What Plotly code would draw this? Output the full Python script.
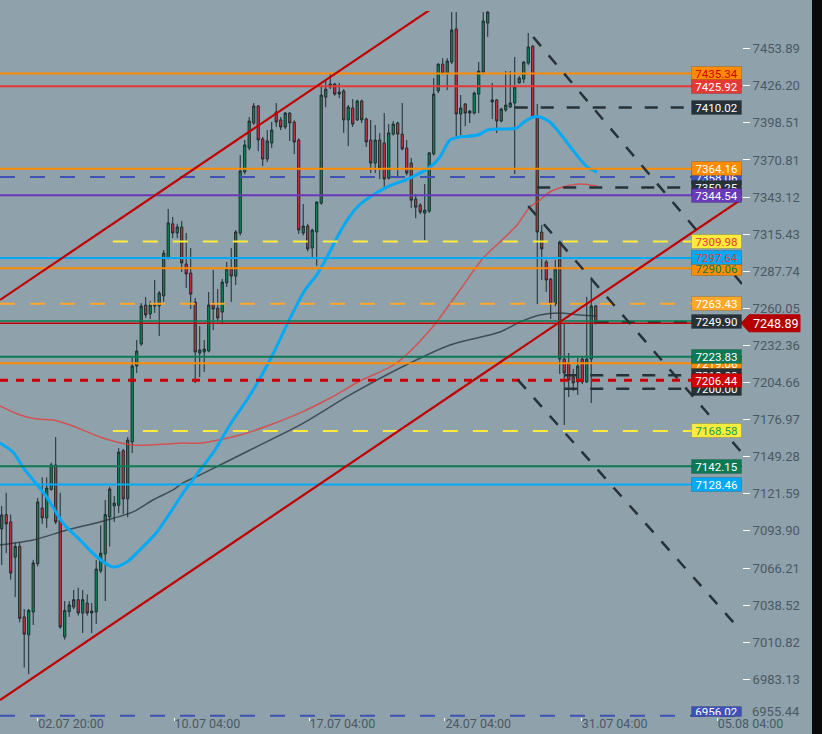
import plotly.graph_objects as go

# ---------------- data ----------------
opens = [7095.4,7106.1,7100.6,7074.3,7082.3,7029.7,7016.3,7033.4,7069.4,7111,
         7103.6,7124.9,7143.1,7102.1,7014.8,7033.6,7037.1,7042.6,7032.6,7040.1,
         7032.6,7033.4,7064,7076.7,7104.3,7112.5,7113,7153.7,7117.8,7160.3,
         7217,7233.4,7262.5,7255.9,7261.8,7261.8,7269.3,7297.6,7323.1,7316.3,
         7320.8,7293.2,7286.4,7264.8,7226.7,7227.5,7228.2,7264,7260.3,7257.3,
         7279,7289.4,7284.1,7316.3,7361.9,7379.7,7398.4,7411.1,7386.5,7371.5,
         7383.5,7406.6,7400.7,7395.4,7405.8,7399.1,7385.7,7316.3,7321.5,7305.1,
         7317,7338.6,7417.7,7425.3,7427.5,7420,7422.3,7400.7,7409.6,7400.7,
         7414.8,7401.4,7385.7,7368.5,7385.7,7383.5,7357.2,7390.1,7398.4,7390.1,
         7379.7,7368.5,7341.6,7337.1,7331.1,7332.6,7375.3,7422.3,7442.3,7435.6,
         7443.9,7468.6,7405.1,7412.6,7405.8,7405.8,7420,7436.5,7473,7414.1,
         7415.6,7399.9,7408.1,7410.3,7413.3,7428.3,7431.2,7443.1,7455.8,7402.9,
         7317,7294.7,7281.9,7263.3,7309.6,7222.2,7219.2,7208.9,7205.1,7222.2,
         7205.1,7222.2,7261.8]
highs = [7112.5,7122.3,7106.1,7085.2,7085.2,7035.6,7035.6,7072.3,7118.5,7133.9,
         7133.9,7144.8,7164,7122.3,7041.6,7041.6,7049.8,7051.5,7049.8,7046.5,
         7040.1,7072.3,7098.1,7117,7126.9,7120,7155.7,7155.1,7164,7223,
         7236.4,7264,7268.6,7265.5,7281.2,7273,7303.6,7334.2,7328.2,7323.1,
         7325.2,7316.3,7305.1,7267.8,7246.8,7236.4,7272.2,7288.7,7274.5,7282,
         7294.7,7305.1,7318.5,7374.5,7385.7,7402.9,7413.3,7411.8,7388,7393.1,
         7399.1,7413.3,7402.9,7406.6,7406.6,7400.4,7387,7337.9,7323.1,7319.5,
         7340.1,7425.3,7430.4,7435.6,7428.3,7428.3,7423.7,7411.8,7416.3,7415.8,
         7415.8,7402.4,7400.7,7396.9,7391,7405.8,7397.6,7399.9,7399.4,7413.3,
         7385.7,7372.3,7345.3,7338.6,7352.8,7376.6,7431.9,7443,7446.8,7446.8,
         7481.2,7481.2,7419.3,7413.3,7408.1,7421.8,7443.9,7481.2,7481.8,7428.3,
         7416.3,7409.8,7437.2,7437.2,7447.6,7433.4,7444.5,7465.6,7456.4,7412.6,
         7322.3,7296.2,7282.7,7296.2,7310.6,7249.1,7226.7,7214.9,7223,7223.7,
         7268.6,7283.4,7262.5]
lows = [7068.5,7077.3,7057.5,7044.5,7025.7,6991.9,6987,7023.7,7067.4,7099.1,
        7096.2,7123.9,7099,7020.8,7012.8,7029.7,7035.6,7030.7,7017.7,7030.7,
        7017.7,7024.5,7062.4,7041.6,7082.3,7100.6,7107.1,7106.6,7104.1,7152,
        7211.8,7232,7252.9,7252,7256.6,7239.4,7264.8,7296.6,7312.5,7312.5,
        7287.2,7275.2,7259.5,7204.3,7208.8,7212.6,7227.2,7243.8,7249.9,7249.1,
        7276,7264.8,7277.5,7314.5,7360.2,7378,7396.9,7377.4,7366.3,7369.3,
        7379.7,7395.4,7393.1,7393.9,7385,7375.2,7315.6,7314.5,7302.6,7298.3,
        7291.7,7337.3,7410.2,7423.7,7418.7,7417,7391,7381.2,7395.4,7399.9,
        7398.4,7380.5,7361,7361,7356.6,7350.6,7356.2,7389,7357.2,7378,
        7359.2,7334.9,7327.3,7330.4,7310.9,7331.3,7374.1,7420.7,7434.5,7422.9,
        7442.4,7387.1,7389.4,7396.1,7398.4,7404.8,7405.8,7434.7,7462.6,7401.4,
        7390.9,7398.9,7406.8,7409.6,7360.3,7427.8,7428.3,7441.6,7401.9,7263.3,
        7281.2,7272.2,7252.1,7261.7,7211,7173,7193.9,7198.4,7195.4,7203.6,
        7204.4,7189.4,7248]
closes = [7105.8,7099.1,7062.4,7082.3,7028.7,7016.8,7034.6,7070,7115.5,7103.6,
          7125.9,7143.1,7100.6,7022.2,7034.6,7038.6,7042.6,7032.6,7042.6,7032.6,
          7034.1,7065.4,7077.3,7106.1,7125.2,7114.7,7152.7,7117.8,7161.7,7217,
          7228.2,7261.8,7255.1,7262.5,7263.3,7271.5,7301.3,7323.8,7316.3,7320.8,
          7293.9,7285.7,7270.7,7227.5,7229,7229.7,7262.5,7259.5,7252.9,7279.7,
          7289.4,7284.1,7317,7362.6,7382,7399.9,7411.1,7385.7,7371.5,7385,
          7393.1,7399.1,7395.4,7405.8,7398.4,7384.2,7318.5,7321.5,7304.4,7318.5,
          7339.4,7419.3,7423.7,7427.5,7420,7421.5,7400.7,7410.3,7397.6,7414.8,
          7400.7,7384.2,7368.5,7385.7,7364.8,7356.6,7391,7397.6,7390.1,7379,
          7361,7340.8,7335.6,7331.9,7333.4,7376.1,7420,7442.3,7435.6,7444.6,
          7467.8,7405.1,7409.6,7405.8,7407.3,7420.8,7437.2,7474.5,7481.2,7415.6,
          7399.9,7408.8,7411.8,7413.3,7425.3,7431.9,7443.9,7455.1,7402.9,7317,
          7304.4,7281.2,7263.3,7289.4,7222.2,7211.8,7206.6,7204.4,7217,7205.1,
          7222.2,7261.8,7248.9]
candle_idx = list(range(len(opens)))

x_tick_pos = [8, 38.3, 68.3, 98.5, 128.8, 159]
x_tick_text = ["02.07 20:00", "10.07 04:00", "17.07 04:00", "24.07 04:00", "31.07 04:00", "05.08 04:00"]
y_tick_vals = [7453.89, 7426.20, 7398.51, 7370.81, 7343.12, 7315.43, 7287.74, 7260.05, 7232.36,
               7204.66, 7176.97, 7149.28, 7121.59, 7093.90, 7066.21, 7038.52, 7010.82, 6983.13, 6955.44]

# moving averages (read at sparse points)
ma_fast_x = [-0.4,2.5,4.7,7,10,13.6,17.4,21.2,24.7,27.8,30.7,34.5,37.4,40.3,44.1,47.4,50.7,55.2,59.6,64.1,
             67.4,70,72.3,75.8,79,81.8,85.6,90.7,95.2,97.4,99.6,101.8,105.8,108,114.5,115.8,118.1,119.6,
             121.8,124,126.9,130.1,132.3]
ma_fast_v = [7159.5,7152.8,7141.6,7131.9,7119.2,7099.8,7087.1,7074.4,7067,7070.7,7079.7,7093.1,7107.3,7122.2,
             7139.4,7154.3,7173,7195.4,7221.5,7252.8,7273.7,7285,7298.4,7320.8,7335.7,7343.2,7350.6,7357.3,
             7365.6,7373,7385.7,7388,7389.4,7393.2,7394.7,7398.4,7402.9,7402.9,7399.1,7390.9,7378.2,7365.6,7361.8]
ma_mid_x = [-0.4,4.1,7.8,11.4,15.2,19,21.8,25.6,29.2,33,36.7,40.3,44.1,53,59.6,66.3,73,79.6,87.4,95.2,
            101.8,107,110.7,114.5,117.4,119.6,121.8,124.7,128.5,132.3]
ma_mid_v = [7187.2,7180.4,7177.4,7176.7,7173,7167.8,7164,7160.3,7158,7158,7158.8,7159.5,7159.5,7165.5,7173,
            7182,7193.1,7205.8,7218.5,7243.9,7273.7,7297.6,7309.6,7322.3,7335.7,7340.9,7346.9,7350.6,7352.9,7351.4]
ma_slow_x = [-0.4,7,14.5,21.8,29.2,33.6,38.1,40.3,44.1,55.2,66.3,77.4,88.5,99.6,110.7,115.2,119.6,124.1,128.5,132.3]
ma_slow_v = [7083.4,7087.1,7094.6,7100.6,7108.1,7117,7124.5,7129.7,7135.7,7154.3,7173,7195.4,7215.5,7232.7,
             7242.4,7249.9,7255.1,7256.6,7255.1,7254.3]

# horizontal levels (drawing order: hidden labels first)
level_values = [7358.06, 7350.25, 7435.34, 7425.92, 7410.02, 7364.16, 7344.54, 7290.06, 7297.64, 7309.98,
                7263.43, 7249.90, 7219.06, 7210.08, 7200.00, 7223.83, 7206.44, 7168.58, 7142.15, 7128.46, 6956.02]
level_line_color = ["#3F51B5", "#263238", "#FF8C00", "#E53935", "#263238", "#FF8C00", "#673AB7", "#FF8C00",
                    "#03A9F4", "#FFEB3B", "#FFA726", "#263238", "#FF8C00", "#263238", "#263238", "#0B7A55",
                    "#D00000", "#FFEB3B", "#0B7A55", "#03A9F4", "#3F51B5"]
level_dash = ["15px,15px", "13px,13px", "solid", "solid", "13px,13px", "solid", "solid", "solid",
              "solid", "15px,15px", "15px,15px", "13px,13px", "solid", "13px,13px", "13px,13px", "solid",
              "8px,8px", "15px,15px", "solid", "solid", "15px,15px"]
level_width = [2, 2.5, 2, 2, 2.5, 2, 2, 2, 2, 2, 2, 2.5, 2, 2.5, 2.5, 2, 3, 2, 2, 2, 2]
level_start = [None, 119, None, None, 114, None, None, None, None, 24.7, None, 132, None, 125, 125, None,
               None, 24.7, None, None, None]
level_label_bg = ["#3F51B5", "#263238", "#FF8C00", "#E53935", "#263238", "#FF8C00", "#673AB7", "#FF8C00",
                  "#03A9F4", "#FFEB3B", "#FFA726", "#263238", "#FF8C00", "#263238", "#263238", "#0B7A55",
                  "#D00000", "#FFEB3B", "#0B7A55", "#03A9F4", "#3F51B5"]
level_label_fg = ["white", "white", "#D50000", "white", "white", "white", "white", "#0B7A55",
                  "#E53935", "#E53935", "white", "white", "white", "white", "white", "white",
                  "white", "#109D58", "white", "white", "white"]

# drawn trend lines (anchor candle index, price)
channel_upper_x = [-0.378, 100]
channel_upper_v = [7266.3, 7493.9]
channel_lower_x = [-0.378, 164.5]
channel_lower_v = [6967.7, 7341.7]
down_a_x = [118.1, 164.5]
down_a_v = [7462.6, 7278.2]
down_b_x = [117, 164.5]
down_b_v = [7336.4, 7152.1]
down_c_x = [114.7, 164.1]
down_c_v = [7206.6, 7020.0]

last_price = 7248.89
bid_line = 7250.6

# ---------------- figure ----------------
BG = "#8FA1AB"
W, H = 822, 734
XR = 742 / W
X_RANGE = [-0.378, 164.5]
Y_RANGE = [6955.0, 7482.0]
AXIS_TXT = "#4A5963"

fig = go.Figure()

fig.add_trace(go.Candlestick(
    x=candle_idx, open=opens, high=highs, low=lows, close=closes,
    increasing=dict(line=dict(color="#1E2A30", width=1), fillcolor="#0E8A56"),
    decreasing=dict(line=dict(color="#1E2A30", width=1), fillcolor="#D6303A"),
    whiskerwidth=0, hoverinfo="skip", showlegend=False,
))

fig.add_trace(go.Scatter(x=ma_slow_x, y=ma_slow_v, mode="lines",
                         line=dict(color="rgba(38,50,56,0.75)", width=1.5, shape="spline", smoothing=0.8),
                         hoverinfo="skip", showlegend=False))
fig.add_trace(go.Scatter(x=ma_mid_x, y=ma_mid_v, mode="lines",
                         line=dict(color="rgba(229,57,53,0.75)", width=1.5, shape="spline", smoothing=0.8),
                         hoverinfo="skip", showlegend=False))
fig.add_trace(go.Scatter(x=ma_fast_x, y=ma_fast_v, mode="lines",
                         line=dict(color="#03A9F4", width=3, shape="spline", smoothing=0.8),
                         hoverinfo="skip", showlegend=False))

shapes = []
for v, c, d, w, s in zip(level_values, level_line_color, level_dash, level_width, level_start):
    if s is None:
        shapes.append(dict(type="line", xref="paper", yref="y", x0=0, x1=XR, y0=v, y1=v,
                           line=dict(color=c, width=w, dash=d)))
    else:
        shapes.append(dict(type="line", xref="x", yref="y", x0=s, x1=X_RANGE[1], y0=v, y1=v,
                           line=dict(color=c, width=w, dash=d)))
shapes.append(dict(type="line", xref="paper", yref="y", x0=0, x1=XR, y0=bid_line, y1=bid_line,
                   line=dict(color="#0B7A55", width=1.5)))
shapes.append(dict(type="line", xref="paper", yref="y", x0=0, x1=XR, y0=last_price, y1=last_price,
                   line=dict(color="#C00000", width=1.5)))
for xs, vs in [(channel_upper_x, channel_upper_v), (channel_lower_x, channel_lower_v)]:
    shapes.append(dict(type="line", xref="x", yref="y", x0=xs[0], x1=xs[1], y0=vs[0], y1=vs[1],
                       line=dict(color="#C00000", width=2.2)))
for xs, vs in [(down_a_x, down_a_v), (down_b_x, down_b_v), (down_c_x, down_c_v)]:
    shapes.append(dict(type="line", xref="x", yref="y", x0=xs[0], x1=xs[1], y0=vs[0], y1=vs[1],
                       line=dict(color="#263238", width=2.5, dash="12px,12px")))
shapes.append(dict(type="rect", xref="paper", yref="paper", x0=812 / W, x1=1, y0=0, y1=1,
                   fillcolor="#0A0A0A", line=dict(width=0), layer="above"))
shapes.append(dict(type="path", xref="paper", yref="y", xsizemode="pixel", ysizemode="pixel",
                   xanchor=XR, yanchor=last_price,
                   path="M -1 0 L 7 8.5 L 58 8.5 L 58 -8.5 L 7 -8.5 Z",
                   fillcolor="#B50000", line=dict(color="#B50000", width=1), layer="above"))

annotations = []
n_levels = len(level_values)
for k, (v, bg, fg) in enumerate(zip(level_values, level_label_bg, level_label_fg)):
    at_bottom = v < Y_RANGE[0] + 5
    annotations.append(dict(xref="paper", yref="y", x=XR, y=v, xanchor="right", yanchor="middle",
                            text=f"{v:.2f}", showarrow=False, bgcolor=bg,
                            font=dict(family="Roboto", size=11.5, color=fg),
                            width=47, height=7 if at_bottom else 11,
                            yshift=4 if at_bottom else 0,
                            borderpad=1, borderwidth=1,
                            bordercolor="rgba(0,0,0,0.15)"))
annotations.append(dict(xref="paper", yref="y", x=775 / W, y=last_price, xanchor="center",
                        yanchor="middle", text=f"{last_price:.2f}", showarrow=False,
                        font=dict(family="Roboto", size=12.5, color="white")))
# lowest price-scale label sits raised above the time scale (no tick mark)
annotations.append(dict(xref="paper", yref="y", x=751 / W, y=y_tick_vals[-1], xanchor="left",
                        yanchor="middle", yshift=5, text=f"{y_tick_vals[-1]:.2f}", showarrow=False,
                        borderpad=0, font=dict(family="Roboto", size=13, color=AXIS_TXT)))

fig.update_layout(
    template="none",
    width=W, height=H, autosize=False,
    margin=dict(l=0, r=0, t=0, b=0, pad=0, autoexpand=False),
    paper_bgcolor=BG, plot_bgcolor=BG,
    showlegend=False,
    font=dict(family="Roboto"),
    shapes=shapes, annotations=annotations,
    xaxis=dict(domain=[0, XR], range=X_RANGE, rangeslider=dict(visible=False), automargin=False,
               showgrid=False, zeroline=False, showline=False,
               tickmode="array", tickvals=x_tick_pos, ticktext=x_tick_text,
               ticks="outside", ticklen=3, tickcolor="white", ticklabelposition="outside right",
               ticklabelstandoff=-5,
               tickfont=dict(family="Roboto", size=12.5, color=AXIS_TXT)),
    yaxis=dict(domain=[17 / H, 1 - 11 / H], range=Y_RANGE, side="right", automargin=False,
               showgrid=False, zeroline=False, showline=False,
               tickmode="array", tickvals=y_tick_vals[:-1],
               ticktext=[f"{v:.2f}" for v in y_tick_vals[:-1]],
               ticks="outside", ticklen=7, tickcolor="white",
               tickfont=dict(family="Roboto", size=13, color=AXIS_TXT)),
)

fig.write_html(
    "out.html",
    config={"responsive": False, "displayModeBar": False},
    post_script="document.body.style.margin='0';document.body.style.padding='0';"
                "document.body.style.overflow='hidden';"
                "document.documentElement.style.overflow='hidden';",
)
